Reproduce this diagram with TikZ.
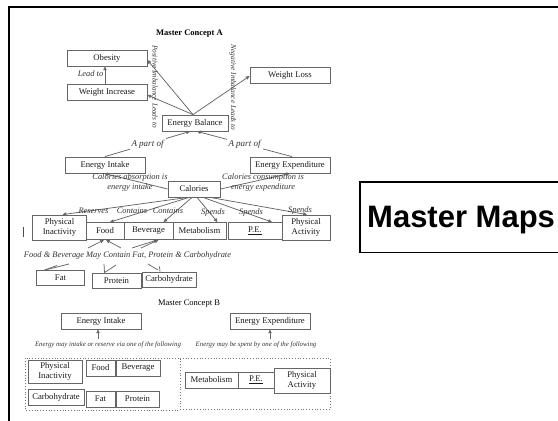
\documentclass[tikz,border=0pt]{standalone}
\usepackage{fontspec}
\setmainfont{Liberation Serif}
\newfontfamily\headsans{Liberation Sans}
\usetikzlibrary{arrows.meta,calc}
\begin{document}
\begin{tikzpicture}[x=1pt,y=-1pt,
  box/.style={draw=black!60, line width=0.8pt, inner sep=0pt, align=center,
    font=\fontsize{8.7}{10}\selectfont, text=black!90},
  lbl/.style={inner sep=0.5pt, align=center, text=black!80,
    font=\itshape\fontsize{8.4}{10}\selectfont},
  note/.style={inner sep=0pt, text=black!80, font=\itshape\fontsize{6.8}{8}\selectfont},
  vnote/.style={inner sep=0pt, text=black!80, rotate=-90, font=\itshape\fontsize{7.3}{8}\selectfont},
  title/.style={inner sep=0pt, font=\fontsize{8.5}{10}\selectfont},
  link/.style={draw=black!60, line width=0.75pt},
  arr/.style={link, -{Triangle[length=3.8pt,width=3.4pt]}},
  zone/.style={draw=black!55, line width=0.8pt, dotted},
]
\useasboundingbox (0,0) rectangle (558,421);

% outer frame (top and left edges)
\draw[line width=2pt] (560,7) -- (9,7) -- (9,423);

% ---------------- Master Concept A ----------------
\node[title, font=\bfseries\fontsize{8.5}{10}\selectfont] (titleA) at (189.5,34) {Master Concept A};

\node[box, minimum width=80pt, minimum height=16pt] (obesity) at (107,58) {Obesity};
\node[box, minimum width=80pt, minimum height=16pt] (winc) at (107,92) {Weight Increase};
\node[box, minimum width=80pt, minimum height=16pt] (wloss) at (290,75) {Weight Loss};
\node[box, minimum width=66pt, minimum height=16pt] (ebal) at (195,123) {Energy Balance};
\node[box, minimum width=80pt, minimum height=16pt] (eint) at (105,165) {Energy Intake};
\node[box, minimum width=80pt, minimum height=16pt] (eexp) at (290,165) {Energy Expenditure};
\node[box, minimum width=52pt, minimum height=16pt] (cal) at (194,189) {Calories};

\node[box, minimum width=54pt, minimum height=25pt] (pinact) at (59.5,227.5) {Physical\\Inactivity};
\node[box, minimum width=38pt, minimum height=17pt] (food) at (105,231) {Food};
\node[box, minimum width=49pt, minimum height=17pt] (bev) at (148.5,231) {Beverage};
\node[box, minimum width=53pt, minimum height=17pt] (metab) at (199.5,231) {Metabolism};
\node[box, minimum width=54pt, minimum height=17pt] (pe) at (255,231) {\underline{P.E.}};
\node[box, minimum width=48pt, minimum height=25pt] (pact) at (306,227.5) {Physical\\Activity};

\node[box, minimum width=48pt, minimum height=15pt] (fat) at (60.5,278) {Fat};
\node[box, minimum width=49pt, minimum height=15pt] (prot) at (116.5,280.5) {Protein};
\node[box, minimum width=54pt, minimum height=15pt] (carb) at (169,279.5) {Carbohydrate};

% imbalance links from Energy Balance
\coordinate (ebtop) at ([xshift=-2pt]ebal.north);
\draw[arr] (ebtop) -- ([yshift=-2pt]obesity.east);
\draw[arr] (ebtop) -- ([yshift=-3pt]winc.east);
\draw[arr] (ebtop) -- ([yshift=-1pt]wloss.west);
\node[vnote] (pos) at (155,86.5) {Positive Imbalance Leads to};
\node[vnote] (neg) at (233,87.5) {Negative Imbalance Leads to};

\draw[arr] ([xshift=-2pt]winc.north) -- ([xshift=-2pt]obesity.south);
\node[lbl] (leadto) at (90.5,74) {Lead to};

% energy intake / expenditure are parts of the balance
\draw[arr] (eint.north) -- node[lbl, fill=white, font=\itshape\fontsize{9}{10}\selectfont, inner sep=2pt] (partL) {A part of} ([xshift=-5pt]ebal.south);
\draw[arr] ([xshift=2pt]eexp.north) -- node[lbl, fill=white, font=\itshape\fontsize{9}{10}\selectfont, inner sep=2pt] (partR) {A part of} ([xshift=2pt]ebal.south);

% calories
\draw[arr] (cal.west) -- ([xshift=-1pt]eint.south);
\draw[arr] (cal.east) -- (eexp.south);
\node[lbl] (absorb) at (130,182) {Calories absorption is\\energy intake};
\node[lbl] (consume) at (263,182) {Calories consumption is\\energy expenditure};

\draw[arr] ([xshift=-6pt]cal.south) -- ([xshift=3pt]pinact.north);
\draw[arr] ([xshift=-5pt]cal.south) -- ([xshift=5pt]food.north);
\draw[arr] ([xshift=-2pt]cal.south) -- ([xshift=15pt]bev.north);
\draw[arr] ([xshift=3pt]cal.south) -- ([xshift=18pt]metab.north);
\draw[arr] ([xshift=9pt]cal.south) -- ([xshift=17pt]pe.north);
\draw[arr] ([xshift=16pt]cal.south) -- ([xshift=1pt]pact.north);
\node[lbl] (res) at (93.5,211) {Reserves};
\node[lbl] (cont1) at (132,211) {Contains};
\node[lbl] (cont2) at (168,211) {Contains};
\node[lbl] (sp1) at (213,212) {Spends};
\node[lbl] (sp2) at (251,212) {Spends};
\node[lbl] (sp3) at (300,210) {Spends};

% stray mark left of the row
\draw[line width=1pt, black!70] (23.5,227) -- (23.5,237);

% nutrients
\node[lbl] (fbtext) at (127.5,255) {Food \& Beverage May Contain Fat, Protein \& Carbohydrate};
\draw[arr] (88,248) -- ([xshift=-1pt]food.south);
\draw[arr] (121,248) -- ([xshift=1pt]food.south);
\draw[arr] (132,248) -- ([xshift=9pt]bev.south);
\draw[arr] (141,248) -- ([xshift=10pt]bev.south);
\draw[link] ([xshift=-16pt]fat.north) -- (69,264);
\draw[link] ([xshift=-16pt]fat.north) -- (57,265.5);
\draw[link] (104,264) -- ([xshift=-12pt]prot.north);
\draw[link] ([xshift=-12pt]prot.north) -- (116,265);
\draw[link] (148,264) -- (158,270);
\draw[link] (159.5,266.5) -- ([xshift=-9pt]carb.north);

% ---------------- Master Concept B ----------------
\node[title] (titleB) at (189,304) {Master Concept B};

\node[box, minimum width=80pt, minimum height=16pt] (eintB) at (101,321) {Energy Intake};
\node[box, minimum width=80pt, minimum height=16pt] (eexpB) at (270,321) {Energy Expenditure};
\node[note] (noteL) at (108,345) {Energy may intake or reserve via one of the following};
\node[note] (noteR) at (256,345) {Energy may be spent by one of the following};
\draw[arr] ($(eintB.south)+(-3,10)$) -- ([xshift=-3pt]eintB.south);
\draw[arr] ($(eexpB.south)+(0,10)$) -- (eexpB.south);

\draw[zone] (25,358) rectangle (180,410);
\draw[zone] (180,358) -- (330,358) -- (330,409) -- (180,409);

\node[box, minimum width=54pt, minimum height=23pt] (pinactB) at (55,371.5) {Physical\\Inactivity};
\node[box, minimum width=29pt, minimum height=16pt] (foodB) at (100.5,368) {Food};
\node[box, minimum width=44pt, minimum height=16pt] (bevB) at (138,368) {Beverage};
\node[box, minimum width=56pt, minimum height=16pt] (carbB) at (56,397) {Carbohydrate};
\node[box, minimum width=29pt, minimum height=16pt] (fatB) at (100.5,399) {Fat};
\node[box, minimum width=43pt, minimum height=16pt] (protB) at (137.5,399) {Protein};

\node[box, minimum width=53pt, minimum height=16pt] (metabB) at (211.5,380) {Metabolism};
\node[box, minimum width=36pt, minimum height=16pt] (peB) at (256,380) {\underline{P.E.}};
\node[box, minimum width=56pt, minimum height=25pt] (pactB) at (302,380.5) {Physical\\Activity};

% ---------------- caption box ----------------
\draw[line width=1.2pt] (560,182) -- (360,182) -- (360,252.5) -- (560,252.5);
\node[inner sep=0pt, anchor=base west, font=\headsans\bfseries\fontsize{31}{33}\selectfont] (maps) at (367,227) {Master Maps};
\end{tikzpicture}
\end{document}
